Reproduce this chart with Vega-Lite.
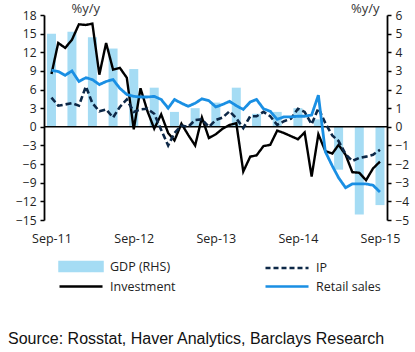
{
 "$schema": "https://vega.github.io/schema/vega-lite/v6.json",
 "width": 343,
 "height": 205,
 "autosize": {"type": "none"},
 "padding": {"left": 44, "top": 15, "right": 28, "bottom": 132},
 "background": "white",
 "datasets": {
  "gdp": [
   {"date": "2011-09-01", "series": "GDP (RHS)", "value": 5.0},
   {"date": "2011-12-01", "series": "GDP (RHS)", "value": 5.1},
   {"date": "2012-03-01", "series": "GDP (RHS)", "value": 4.8},
   {"date": "2012-06-01", "series": "GDP (RHS)", "value": 4.2},
   {"date": "2012-09-01", "series": "GDP (RHS)", "value": 3.1},
   {"date": "2012-12-01", "series": "GDP (RHS)", "value": 2.1},
   {"date": "2013-03-01", "series": "GDP (RHS)", "value": 0.8},
   {"date": "2013-06-01", "series": "GDP (RHS)", "value": 1.0},
   {"date": "2013-09-01", "series": "GDP (RHS)", "value": 1.3},
   {"date": "2013-12-01", "series": "GDP (RHS)", "value": 2.1},
   {"date": "2014-03-01", "series": "GDP (RHS)", "value": 0.7},
   {"date": "2014-06-01", "series": "GDP (RHS)", "value": 0.8},
   {"date": "2014-09-01", "series": "GDP (RHS)", "value": 1.0},
   {"date": "2014-12-01", "series": "GDP (RHS)", "value": 0.4},
   {"date": "2015-03-01", "series": "GDP (RHS)", "value": -2.3},
   {"date": "2015-06-01", "series": "GDP (RHS)", "value": -4.7},
   {"date": "2015-09-01", "series": "GDP (RHS)", "value": -4.2}
  ],
  "monthly": [
   {"date": "2011-09-01", "series": "Investment", "value": 8.5},
   {"date": "2011-10-01", "series": "Investment", "value": 13.5},
   {"date": "2011-11-01", "series": "Investment", "value": 12.7},
   {"date": "2011-12-01", "series": "Investment", "value": 14.0},
   {"date": "2012-01-01", "series": "Investment", "value": 16.5},
   {"date": "2012-02-01", "series": "Investment", "value": 16.4},
   {"date": "2012-03-01", "series": "Investment", "value": 16.6},
   {"date": "2012-04-01", "series": "Investment", "value": 8.4},
   {"date": "2012-05-01", "series": "Investment", "value": 13.5},
   {"date": "2012-06-01", "series": "Investment", "value": 9.2},
   {"date": "2012-07-01", "series": "Investment", "value": 9.5},
   {"date": "2012-08-01", "series": "Investment", "value": 7.9},
   {"date": "2012-09-01", "series": "Investment", "value": -0.4},
   {"date": "2012-10-01", "series": "Investment", "value": 6.2},
   {"date": "2012-11-01", "series": "Investment", "value": 2.5},
   {"date": "2012-12-01", "series": "Investment", "value": -0.3},
   {"date": "2013-01-01", "series": "Investment", "value": 2.0},
   {"date": "2013-02-01", "series": "Investment", "value": -1.0},
   {"date": "2013-03-01", "series": "Investment", "value": -2.2},
   {"date": "2013-04-01", "series": "Investment", "value": 0.5},
   {"date": "2013-05-01", "series": "Investment", "value": -1.3},
   {"date": "2013-06-01", "series": "Investment", "value": -3.0},
   {"date": "2013-07-01", "series": "Investment", "value": 1.5},
   {"date": "2013-08-01", "series": "Investment", "value": -1.8},
   {"date": "2013-09-01", "series": "Investment", "value": -1.2},
   {"date": "2013-10-01", "series": "Investment", "value": -0.3},
   {"date": "2013-11-01", "series": "Investment", "value": 0.3},
   {"date": "2013-12-01", "series": "Investment", "value": 0.6},
   {"date": "2014-01-01", "series": "Investment", "value": -7.2},
   {"date": "2014-02-01", "series": "Investment", "value": -4.8},
   {"date": "2014-03-01", "series": "Investment", "value": -4.6},
   {"date": "2014-04-01", "series": "Investment", "value": -3.1},
   {"date": "2014-05-01", "series": "Investment", "value": -2.9},
   {"date": "2014-06-01", "series": "Investment", "value": -0.6},
   {"date": "2014-07-01", "series": "Investment", "value": -1.0},
   {"date": "2014-08-01", "series": "Investment", "value": -1.5},
   {"date": "2014-09-01", "series": "Investment", "value": -2.0},
   {"date": "2014-10-01", "series": "Investment", "value": -0.9},
   {"date": "2014-11-01", "series": "Investment", "value": -8.0},
   {"date": "2014-12-01", "series": "Investment", "value": -1.2},
   {"date": "2015-01-01", "series": "Investment", "value": -3.9},
   {"date": "2015-02-01", "series": "Investment", "value": -4.3},
   {"date": "2015-03-01", "series": "Investment", "value": -2.9},
   {"date": "2015-04-01", "series": "Investment", "value": -4.5},
   {"date": "2015-05-01", "series": "Investment", "value": -7.3},
   {"date": "2015-06-01", "series": "Investment", "value": -7.4},
   {"date": "2015-07-01", "series": "Investment", "value": -8.6},
   {"date": "2015-08-01", "series": "Investment", "value": -6.7},
   {"date": "2015-09-01", "series": "Investment", "value": -5.6},
   {"date": "2011-09-01", "series": "IP", "value": 4.7},
   {"date": "2011-10-01", "series": "IP", "value": 3.4},
   {"date": "2011-11-01", "series": "IP", "value": 3.6},
   {"date": "2011-12-01", "series": "IP", "value": 3.8},
   {"date": "2012-01-01", "series": "IP", "value": 3.4},
   {"date": "2012-02-01", "series": "IP", "value": 6.5},
   {"date": "2012-03-01", "series": "IP", "value": 3.8},
   {"date": "2012-04-01", "series": "IP", "value": 2.5},
   {"date": "2012-05-01", "series": "IP", "value": 2.8},
   {"date": "2012-06-01", "series": "IP", "value": 1.5},
   {"date": "2012-07-01", "series": "IP", "value": 3.2},
   {"date": "2012-08-01", "series": "IP", "value": 4.4},
   {"date": "2012-09-01", "series": "IP", "value": 2.4},
   {"date": "2012-10-01", "series": "IP", "value": 2.8},
   {"date": "2012-11-01", "series": "IP", "value": 2.9},
   {"date": "2012-12-01", "series": "IP", "value": 2.1},
   {"date": "2013-01-01", "series": "IP", "value": -0.5},
   {"date": "2013-02-01", "series": "IP", "value": -3.0},
   {"date": "2013-03-01", "series": "IP", "value": -1.0},
   {"date": "2013-04-01", "series": "IP", "value": 0.2},
   {"date": "2013-05-01", "series": "IP", "value": 0.0},
   {"date": "2013-06-01", "series": "IP", "value": 1.1},
   {"date": "2013-07-01", "series": "IP", "value": 1.2},
   {"date": "2013-08-01", "series": "IP", "value": 0.0},
   {"date": "2013-09-01", "series": "IP", "value": 1.1},
   {"date": "2013-10-01", "series": "IP", "value": 1.5},
   {"date": "2013-11-01", "series": "IP", "value": 2.5},
   {"date": "2013-12-01", "series": "IP", "value": 1.4},
   {"date": "2014-01-01", "series": "IP", "value": -0.2},
   {"date": "2014-02-01", "series": "IP", "value": 1.7},
   {"date": "2014-03-01", "series": "IP", "value": 1.7},
   {"date": "2014-04-01", "series": "IP", "value": 2.4},
   {"date": "2014-05-01", "series": "IP", "value": 1.7},
   {"date": "2014-06-01", "series": "IP", "value": 0.3},
   {"date": "2014-07-01", "series": "IP", "value": 0.9},
   {"date": "2014-08-01", "series": "IP", "value": 1.3},
   {"date": "2014-09-01", "series": "IP", "value": 2.9},
   {"date": "2014-10-01", "series": "IP", "value": 2.4},
   {"date": "2014-11-01", "series": "IP", "value": 0.4},
   {"date": "2014-12-01", "series": "IP", "value": 3.0},
   {"date": "2015-01-01", "series": "IP", "value": 0.6},
   {"date": "2015-02-01", "series": "IP", "value": -1.4},
   {"date": "2015-03-01", "series": "IP", "value": -2.3},
   {"date": "2015-04-01", "series": "IP", "value": -4.4},
   {"date": "2015-05-01", "series": "IP", "value": -5.5},
   {"date": "2015-06-01", "series": "IP", "value": -5.0},
   {"date": "2015-07-01", "series": "IP", "value": -4.8},
   {"date": "2015-08-01", "series": "IP", "value": -4.5},
   {"date": "2015-09-01", "series": "IP", "value": -3.7},
   {"date": "2011-09-01", "series": "Retail sales", "value": 9.1},
   {"date": "2011-10-01", "series": "Retail sales", "value": 8.9},
   {"date": "2011-11-01", "series": "Retail sales", "value": 8.3},
   {"date": "2011-12-01", "series": "Retail sales", "value": 9.0},
   {"date": "2012-01-01", "series": "Retail sales", "value": 7.3},
   {"date": "2012-02-01", "series": "Retail sales", "value": 7.9},
   {"date": "2012-03-01", "series": "Retail sales", "value": 7.6},
   {"date": "2012-04-01", "series": "Retail sales", "value": 6.8},
   {"date": "2012-05-01", "series": "Retail sales", "value": 7.3},
   {"date": "2012-06-01", "series": "Retail sales", "value": 7.6},
   {"date": "2012-07-01", "series": "Retail sales", "value": 6.2},
   {"date": "2012-08-01", "series": "Retail sales", "value": 5.2},
   {"date": "2012-09-01", "series": "Retail sales", "value": 4.9},
   {"date": "2012-10-01", "series": "Retail sales", "value": 4.8},
   {"date": "2012-11-01", "series": "Retail sales", "value": 4.8},
   {"date": "2012-12-01", "series": "Retail sales", "value": 4.9},
   {"date": "2013-01-01", "series": "Retail sales", "value": 4.4},
   {"date": "2013-02-01", "series": "Retail sales", "value": 3.0},
   {"date": "2013-03-01", "series": "Retail sales", "value": 4.4},
   {"date": "2013-04-01", "series": "Retail sales", "value": 3.8},
   {"date": "2013-05-01", "series": "Retail sales", "value": 3.3},
   {"date": "2013-06-01", "series": "Retail sales", "value": 3.8},
   {"date": "2013-07-01", "series": "Retail sales", "value": 4.5},
   {"date": "2013-08-01", "series": "Retail sales", "value": 4.2},
   {"date": "2013-09-01", "series": "Retail sales", "value": 3.2},
   {"date": "2013-10-01", "series": "Retail sales", "value": 3.6},
   {"date": "2013-11-01", "series": "Retail sales", "value": 4.1},
   {"date": "2013-12-01", "series": "Retail sales", "value": 3.4},
   {"date": "2014-01-01", "series": "Retail sales", "value": 2.8},
   {"date": "2014-02-01", "series": "Retail sales", "value": 4.0},
   {"date": "2014-03-01", "series": "Retail sales", "value": 4.4},
   {"date": "2014-04-01", "series": "Retail sales", "value": 2.9},
   {"date": "2014-05-01", "series": "Retail sales", "value": 2.5},
   {"date": "2014-06-01", "series": "Retail sales", "value": 1.2},
   {"date": "2014-07-01", "series": "Retail sales", "value": 1.6},
   {"date": "2014-08-01", "series": "Retail sales", "value": 1.6},
   {"date": "2014-09-01", "series": "Retail sales", "value": 1.7},
   {"date": "2014-10-01", "series": "Retail sales", "value": 1.7},
   {"date": "2014-11-01", "series": "Retail sales", "value": 1.9},
   {"date": "2014-12-01", "series": "Retail sales", "value": 5.1},
   {"date": "2015-01-01", "series": "Retail sales", "value": -4.0},
   {"date": "2015-02-01", "series": "Retail sales", "value": -6.3},
   {"date": "2015-03-01", "series": "Retail sales", "value": -8.2},
   {"date": "2015-04-01", "series": "Retail sales", "value": -9.8},
   {"date": "2015-05-01", "series": "Retail sales", "value": -9.2},
   {"date": "2015-06-01", "series": "Retail sales", "value": -9.2},
   {"date": "2015-07-01", "series": "Retail sales", "value": -9.2},
   {"date": "2015-08-01", "series": "Retail sales", "value": -9.4},
   {"date": "2015-09-01", "series": "Retail sales", "value": -10.5}
  ]
 },
 "layer": [
  {
   "layer": [
    {
     "data": {"name": "gdp"},
     "mark": {"type": "bar", "width": 9, "clip": true},
     "encoding": {
      "x": {"field": "date", "type": "temporal",
       "scale": {"type": "utc", "domain": [{"year": 2011, "month": 8, "date": 21, "utc": true}, {"year": 2015, "month": 9, "date": 10, "utc": true}], "nice": false},
       "axis": {"orient": "top", "labels": false, "ticks": false, "domain": false, "grid": false, "title": "%y/y", "titleX": 27, "titleY": -3, "titleAlign": "left", "titleBaseline": "alphabetic", "titleAngle": 0}},
      "y": {"field": "value", "type": "quantitative",
       "scale": {"domain": [-5, 6], "nice": false, "zero": false},
       "axis": {"orient": "right", "values": [-5, -4, -3, -2, -1, 0, 1, 2, 3, 4, 5, 6], "title": "%y/y", "titleX": -8, "titleY": -3, "titleAlign": "right", "titleAngle": 0, "titleBaseline": "alphabetic"}},
      "y2": {"datum": 0},
      "color": {"field": "series", "type": "nominal",
       "scale": {"domain": ["GDP (RHS)", "Investment", "IP", "Retail sales"], "range": ["#a5dcf4", "#000000", "#0d2847", "#1a8fe3"]},
       "legend": {
        "encoding": {
         "symbols": {
          "shape": {"value": {"expr": "datum.value === 'GDP (RHS)' ? 'M-1,-0.75H6.17V0.75H-1Z' : 'M-1,0H6.17'"}},
          "fill": {"value": {"expr": "datum.value === 'GDP (RHS)' ? '#a5dcf4' : 'transparent'"}},
          "stroke": {"value": {"expr": "datum.value === 'IP' ? '#0d2847' : datum.value === 'Investment' ? '#000000' : datum.value === 'Retail sales' ? '#1a8fe3' : 'transparent'"}},
          "strokeDash": {"value": {"expr": "datum.value === 'IP' ? [5, 3] : [1, 0]"}},
          "strokeWidth": {"value": 2.5},
          "opacity": {"value": 1}
         }
        }
       }}
     }
    },
    {
     "data": {"values": [{"zero": 0}]},
     "mark": {"type": "rule", "color": "#000000", "strokeWidth": 1.6},
     "encoding": {
      "y": {"field": "zero", "type": "quantitative",
       "axis": {"orient": "right", "values": [-5, -4, -3, -2, -1, 0, 1, 2, 3, 4, 5, 6], "title": "%y/y", "titleX": -8, "titleY": -3, "titleAlign": "right", "titleAngle": 0, "titleBaseline": "alphabetic"}}
     }
    }
   ]
  },
  {
   "data": {"name": "monthly"},
   "mark": {"type": "line"},
   "encoding": {
    "x": {"field": "date", "type": "temporal",
     "scale": {"type": "utc", "domain": [{"year": 2011, "month": 8, "date": 21, "utc": true}, {"year": 2015, "month": 9, "date": 10, "utc": true}], "nice": false},
     "axis": {"title": null, "orient": "bottom", "domain": false, "ticks": false, "grid": false, "labelPadding": 12, "format": "%b-%y", "labelFontSize": 12.5,
      "values": [{"year": 2011, "month": 9, "date": 1, "utc": true}, {"year": 2012, "month": 9, "date": 1, "utc": true}, {"year": 2013, "month": 9, "date": 1, "utc": true}, {"year": 2014, "month": 9, "date": 1, "utc": true}, {"year": 2015, "month": 9, "date": 1, "utc": true}]}},
    "y": {"field": "value", "type": "quantitative",
     "scale": {"domain": [-15, 18], "nice": false, "zero": false},
     "axis": {"orient": "left", "values": [-15, -12, -9, -6, -3, 0, 3, 6, 9, 12, 15, 18], "title": null}},
    "color": {"field": "series", "type": "nominal",
     "scale": {"domain": ["GDP (RHS)", "Investment", "IP", "Retail sales"], "range": ["#a5dcf4", "#000000", "#0d2847", "#1a8fe3"]},
     "legend": {
      "encoding": {
       "symbols": {
        "shape": {"value": {"expr": "datum.value === 'GDP (RHS)' ? 'M-1,-0.75H6.17V0.75H-1Z' : 'M-1,0H6.17'"}},
        "fill": {"value": {"expr": "datum.value === 'GDP (RHS)' ? '#a5dcf4' : 'transparent'"}},
        "stroke": {"value": {"expr": "datum.value === 'IP' ? '#0d2847' : datum.value === 'Investment' ? '#000000' : datum.value === 'Retail sales' ? '#1a8fe3' : 'transparent'"}},
        "strokeDash": {"value": {"expr": "datum.value === 'IP' ? [5, 3] : [1, 0]"}},
        "strokeWidth": {"value": 2.5},
        "opacity": {"value": 1}
       }
      }
     }},
    "strokeDash": {"field": "series", "type": "nominal", "legend": null,
     "scale": {"domain": ["Investment", "IP", "Retail sales"], "range": [[1, 0], [6, 3], [1, 0]]}},
    "strokeWidth": {"field": "series", "type": "nominal", "legend": null,
     "scale": {"domain": ["Investment", "IP", "Retail sales"], "range": [2.4, 2.8, 2.4]}}
   }
  }
 ],
 "resolve": {"scale": {"y": "independent"}, "axis": {"x": "independent"}},
 "title": {"text": "Source: Rosstat, Haver Analytics, Barclays Research", "orient": "bottom", "anchor": "start", "frame": "group", "offset": 38, "dx": -36, "font": "Liberation Sans", "fontSize": 16, "fontWeight": "normal", "color": "#111111"},
 "config": {
  "view": {"stroke": null},
  "axis": {"grid": false, "labelFont": "Open Sans", "labelFontSize": 12, "labelColor": "#222222", "domainColor": "#000000", "tickColor": "#000000", "domainWidth": 1.8, "tickWidth": 1.5, "tickSize": 4, "labelPadding": 4, "titleFont": "Open Sans", "titleFontSize": 13, "titleFontWeight": "normal", "titleColor": "#333333"},
  "legend": {
   "title": null, "orient": "none", "legendX": 14, "legendY": 244, "columns": 2, "padding": 0,
   "symbolSize": 144, "symbolStrokeWidth": 2.5, "symbolType": "stroke",
   "labelFont": "Open Sans", "labelFontSize": 12.5, "labelColor": "#222222", "labelOffset": 37,
   "columnPadding": 84, "rowPadding": 3
  }
 }
}
